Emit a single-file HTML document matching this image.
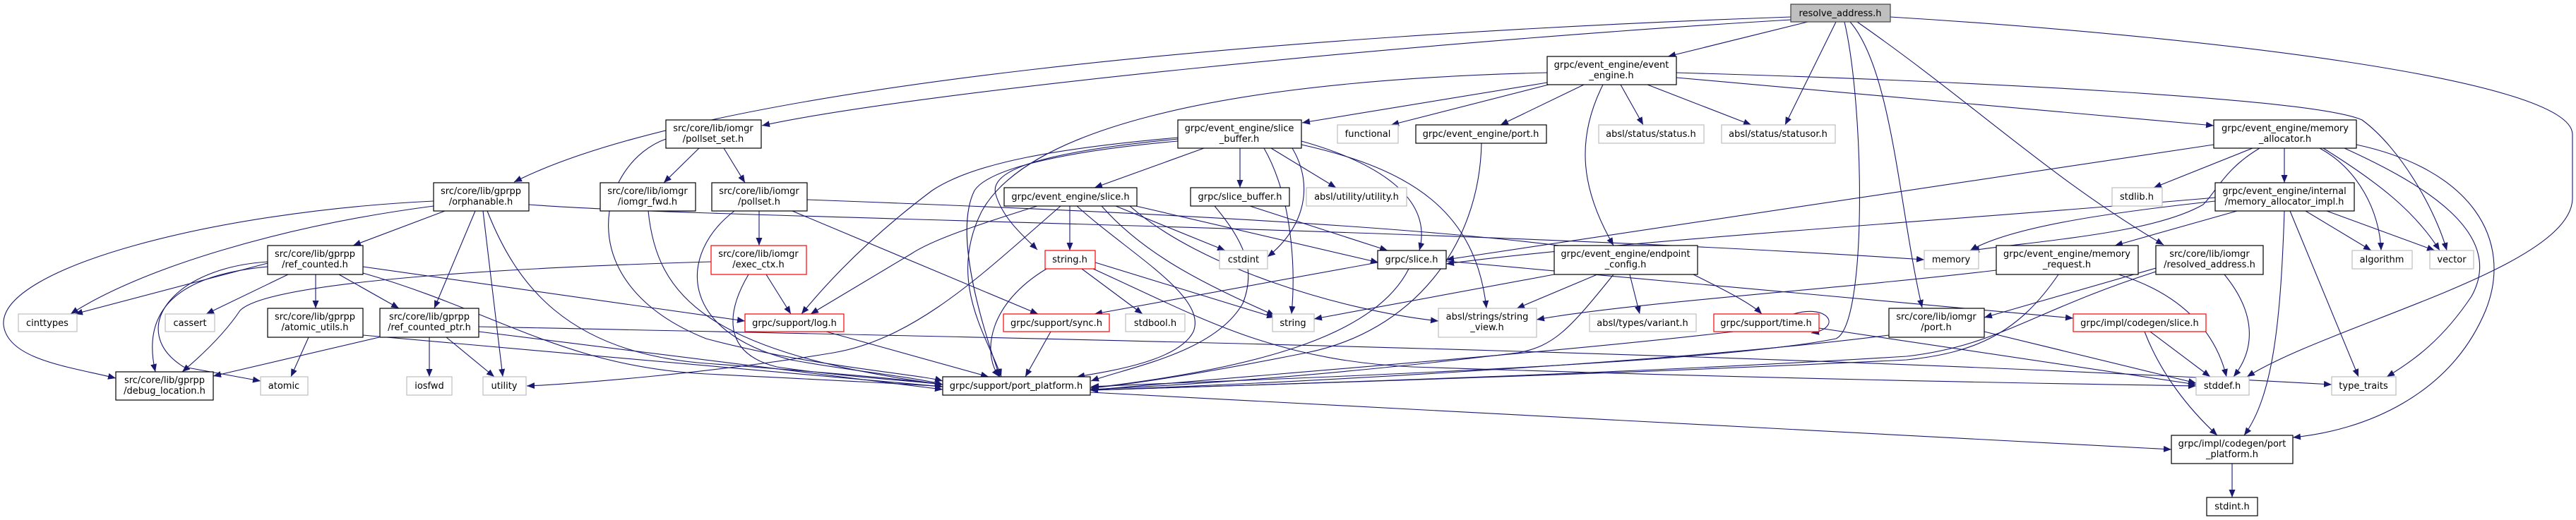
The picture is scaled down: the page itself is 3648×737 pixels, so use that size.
<!DOCTYPE html>
<html><head><meta charset="utf-8"><style>
html,body{margin:0;padding:0;background:#fff;}
svg{display:block;}
text{font-family:"DejaVu Sans","Liberation Sans",sans-serif;font-size:13px;fill:#000;}
</style></head><body>
<svg width="3648" height="737" viewBox="0 0 3648 737" xmlns="http://www.w3.org/2000/svg">
<defs><marker id="a" markerUnits="userSpaceOnUse" markerWidth="12" markerHeight="10" refX="11" refY="4.5" orient="auto"><path d="M0,0 L11,4.5 L0,9 z" fill="#191970"/></marker></defs>
<g fill="none" stroke="#191970" stroke-width="1.1" marker-end="url(#a)">
<path d="M2560,31 L2362,80"/>
<path d="M2536,24 C1800,50 1000,120 728,258"/>
<path d="M2536,28 C2000,60 1300,130 1079,178"/>
<path d="M2600,31 L2528,177"/>
<path d="M2612,31 C2640,150 2645,460 2600,480 C2400,520 1700,540 1545,548"/>
<path d="M2620,31 C2680,100 2690,300 2722,436"/>
<path d="M2630,31 C2800,150 2900,250 3064,347"/>
<path d="M2677,24 C3100,50 3640,110 3643,190 L3643,282 C3640,380 3300,460 3182,534"/>
<path d="M2191,117 L1844,174"/>
<path d="M2193,120 L1970,177"/>
<path d="M2243,120 L2125,177"/>
<path d="M2270,120 C2230,200 2240,270 2285,348"/>
<path d="M2295,120 L2327,177"/>
<path d="M2333,120 L2480,177"/>
<path d="M2374,110 L3135,178"/>
<path d="M2374,103 C2800,115 3280,140 3345,170 C3400,210 3450,300 3465,355"/>
<path d="M2191,103 C1700,115 1450,190 1390,300 C1340,400 1400,480 1418,534"/>
<path d="M1705,210 L1550,266"/>
<path d="M1756,210 L1756,266"/>
<path d="M1800,210 L1892,266"/>
<path d="M1668,197 C1480,215 1400,240 1410,275 C1420,310 1450,335 1469,354"/>
<path d="M1668,195 C1500,210 1380,230 1320,270 C1240,330 1180,390 1135,445"/>
<path d="M1668,200 C1500,215 1400,240 1380,270 C1350,330 1390,460 1416,534"/>
<path d="M1830,210 C1860,260 1850,320 1795,364"/>
<path d="M1843,200 C1950,230 2030,280 2010,355"/>
<path d="M1843,205 C2000,240 2090,300 2105,437"/>
<path d="M1790,210 C1830,280 1835,380 1829,445"/>
<path d="M1515,292 L1515,355"/>
<path d="M1469,292 C1380,320 1320,340 1290,360 L1148,445"/>
<path d="M1502,292 C1400,380 1300,480 1180,500 C1000,530 800,545 746,547"/>
<path d="M1525,292 C1600,360 1710,420 1690,470 C1670,510 1580,525 1525,534"/>
<path d="M1580,292 L1735,355"/>
<path d="M1560,292 C1620,360 1700,400 1805,447"/>
<path d="M1600,292 C1700,380 1900,440 2037,455"/>
<path d="M1600,290 L1952,372"/>
<path d="M1770,292 L1965,355"/>
<path d="M1720,292 C1760,340 1780,380 1760,430 C1720,500 1600,520 1545,540"/>
<path d="M990,210 L940,259"/>
<path d="M1025,210 L1055,259"/>
<path d="M943,197 C850,230 800,400 1000,480 C1150,520 1300,530 1335,540"/>
<path d="M918,299 C930,420 1000,500 1335,545"/>
<path d="M1075,299 L1075,348"/>
<path d="M1122,299 L1470,445"/>
<path d="M1040,299 C960,360 960,470 1120,510 C1200,525 1300,535 1335,545"/>
<path d="M1143,283 C1600,300 2300,330 2400,390 C2440,410 2480,430 2495,445"/>
<path d="M1085,389 L1120,445"/>
<path d="M1060,389 C1030,440 1020,500 1100,520 C1200,535 1300,540 1335,545"/>
<path d="M1007,371 C700,380 380,400 340,440 C320,470 290,500 258,527"/>
<path d="M614,285 C300,300 0,380 5,460 C10,510 100,520 164,536"/>
<path d="M614,292 C400,320 200,380 100,445"/>
<path d="M630,299 L500,348"/>
<path d="M673,299 L615,437"/>
<path d="M684,299 L712,534"/>
<path d="M690,299 C730,400 800,500 1000,515 C1200,530 1300,540 1335,545"/>
<path d="M749,290 C1000,310 2000,320 2725,368"/>
<path d="M379,373 L106,445"/>
<path d="M408,389 L292,445"/>
<path d="M447,389 L447,437"/>
<path d="M480,389 L565,437"/>
<path d="M379,378 C250,390 200,440 220,527"/>
<path d="M379,371 C240,380 180,470 260,520 L369,540"/>
<path d="M514,378 L1055,455"/>
<path d="M514,387 C700,440 800,520 1000,530 C1200,540 1300,545 1335,548"/>
<path d="M437,478 L412,534"/>
<path d="M514,475 L1335,548"/>
<path d="M537,478 L302,533"/>
<path d="M608,478 L608,534"/>
<path d="M632,478 L700,534"/>
<path d="M678,470 L1335,552"/>
<path d="M678,463 C1500,480 2500,500 3302,545"/>
<path d="M1170,470 L1400,534"/>
<path d="M1488,470 L1452,534"/>
<path d="M1482,381 C1400,430 1390,500 1415,534"/>
<path d="M1532,381 L1618,445"/>
<path d="M1551,372 L1805,450"/>
<path d="M1548,381 C1700,450 1800,510 2000,520 C2600,540 3000,545 3110,547"/>
<path d="M1951,372 L1550,445"/>
<path d="M1995,381 C1950,470 1800,520 1544,550"/>
<path d="M2048,370 L2936,451"/>
<path d="M2262,389 L2148,437"/>
<path d="M2308,389 L2322,445"/>
<path d="M2285,389 C2220,470 2200,490 2150,500 C1900,530 1700,545 1544,552"/>
<path d="M2201,389 L1861,452"/>
<path d="M2098,203 C2095,350 2000,470 1850,500 C1700,530 1600,545 1544,550"/>
<path d="M2540,445 C2590,430 2610,465 2565,472"/>
<path d="M2455,470 C2200,500 1800,530 1544,553"/>
<path d="M2576,465 L3110,545"/>
<path d="M3190,210 L3050,266"/>
<path d="M3235,210 L3235,259"/>
<path d="M3285,210 C3340,240 3370,300 3372,355"/>
<path d="M3290,210 C3370,260 3420,300 3455,355"/>
<path d="M3320,210 C3430,260 3550,330 3500,420 C3460,480 3420,510 3380,534"/>
<path d="M3337,205 C3500,240 3560,340 3520,440 C3470,560 3350,610 3247,620"/>
<path d="M3200,210 C3150,240 3140,270 3120,290 C3050,330 2900,340 2792,355"/>
<path d="M3135,205 L2048,368"/>
<path d="M3137,285 C3000,300 2850,320 2790,355"/>
<path d="M3168,299 L2995,348"/>
<path d="M3265,299 L3358,355"/>
<path d="M3295,299 L3448,355"/>
<path d="M3243,299 L3340,534"/>
<path d="M3235,299 C3230,450 3220,560 3178,617"/>
<path d="M3137,280 C2800,310 2300,340 2048,374"/>
<path d="M2827,383 C2600,410 2300,430 2176,453"/>
<path d="M2915,389 C2860,470 2800,500 2700,510 C2300,530 1800,545 1544,553"/>
<path d="M3000,389 C3100,420 3140,480 3153,534"/>
<path d="M3053,380 L2810,450"/>
<path d="M3150,389 C3200,450 3190,500 3163,534"/>
<path d="M3053,385 C2880,440 2830,490 2700,505 C2300,530 1800,545 1544,553"/>
<path d="M2675,475 C2400,510 1900,540 1544,553"/>
<path d="M2810,470 L3110,543"/>
<path d="M3045,470 L3130,534"/>
<path d="M3037,470 C3060,530 3100,580 3140,617"/>
<path d="M1544,556 L3075,637"/>
<path d="M3161,657 L3161,705"/>
</g>
<g stroke-width="1.2">
<rect x="2536" y="6" width="141" height="25" fill="#bfbfbf" stroke="#404040"/>
<g fill="#fff" stroke="#000">
<rect x="2191" y="80" width="183" height="40"/>
<rect x="1668" y="170" width="175" height="40"/>
<rect x="943" y="170" width="135" height="40"/>
<rect x="614" y="259" width="135" height="40"/>
<rect x="2005" y="177" width="185" height="26"/>
<rect x="3135" y="170" width="202" height="40"/>
<rect x="850" y="259" width="135" height="40"/>
<rect x="1008" y="259" width="135" height="40"/>
<rect x="1422" y="266" width="188" height="26"/>
<rect x="1686" y="266" width="140" height="26"/>
<rect x="3137" y="259" width="197" height="40"/>
<rect x="379" y="348" width="135" height="41"/>
<rect x="1951" y="355" width="97" height="26"/>
<rect x="2201" y="348" width="203" height="41"/>
<rect x="2827" y="348" width="201" height="41"/>
<rect x="3053" y="348" width="152" height="41"/>
<rect x="379" y="437" width="135" height="41"/>
<rect x="538" y="437" width="140" height="41"/>
<rect x="2675" y="437" width="135" height="41"/>
<rect x="164" y="527" width="138" height="40"/>
<rect x="1335" y="534" width="209" height="26"/>
<rect x="3075" y="617" width="172" height="40"/>
<rect x="3125" y="705" width="72" height="26"/>
</g>
<g fill="#fff" stroke="#ff0000">
<rect x="1007" y="348" width="135" height="41"/>
<rect x="1480" y="355" width="71" height="26"/>
<rect x="1055" y="445" width="140" height="25"/>
<rect x="1421" y="445" width="150" height="25"/>
<rect x="2427" y="445" width="149" height="25"/>
<rect x="2936" y="445" width="188" height="25"/>
</g>
<g fill="#fff" stroke="#bfbfbf">
<rect x="1894" y="177" width="86" height="26"/>
<rect x="2264" y="177" width="149" height="26"/>
<rect x="2438" y="177" width="161" height="26"/>
<rect x="1850" y="266" width="142" height="26"/>
<rect x="2991" y="266" width="71" height="26"/>
<rect x="1727" y="355" width="68" height="26"/>
<rect x="2725" y="355" width="77" height="26"/>
<rect x="3331" y="355" width="85" height="26"/>
<rect x="3441" y="355" width="62" height="26"/>
<rect x="26" y="445" width="83" height="25"/>
<rect x="234" y="445" width="70" height="25"/>
<rect x="1594" y="445" width="84" height="25"/>
<rect x="1802" y="445" width="59" height="25"/>
<rect x="2037" y="437" width="139" height="41"/>
<rect x="2251" y="445" width="151" height="25"/>
<rect x="369" y="534" width="67" height="26"/>
<rect x="576" y="534" width="64" height="26"/>
<rect x="684" y="534" width="61" height="26"/>
<rect x="3110" y="534" width="75" height="26"/>
<rect x="3302" y="534" width="91" height="26"/>
</g>
</g>
<g text-anchor="middle">
<text x="2606" y="23">resolve_address.h</text>
<text x="2282" y="96">grpc/event_engine/event</text><text x="2282" y="111">_engine.h</text>
<text x="1755" y="186">grpc/event_engine/slice</text><text x="1755" y="201">_buffer.h</text>
<text x="1010" y="186">src/core/lib/iomgr</text><text x="1010" y="201">/pollset_set.h</text>
<text x="681" y="275">src/core/lib/gprpp</text><text x="681" y="290">/orphanable.h</text>
<text x="2097" y="194">grpc/event_engine/port.h</text>
<text x="3236" y="186">grpc/event_engine/memory</text><text x="3236" y="201">_allocator.h</text>
<text x="917" y="275">src/core/lib/iomgr</text><text x="917" y="290">/iomgr_fwd.h</text>
<text x="1075" y="275">src/core/lib/iomgr</text><text x="1075" y="290">/pollset.h</text>
<text x="1516" y="283">grpc/event_engine/slice.h</text>
<text x="1756" y="283">grpc/slice_buffer.h</text>
<text x="3235" y="275">grpc/event_engine/internal</text><text x="3235" y="290">/memory_allocator_impl.h</text>
<text x="446" y="364">src/core/lib/gprpp</text><text x="446" y="379">/ref_counted.h</text>
<text x="1999" y="372">grpc/slice.h</text>
<text x="2302" y="364">grpc/event_engine/endpoint</text><text x="2302" y="379">_config.h</text>
<text x="2927" y="364">grpc/event_engine/memory</text><text x="2927" y="379">_request.h</text>
<text x="3129" y="364">src/core/lib/iomgr</text><text x="3129" y="379">/resolved_address.h</text>
<text x="446" y="453">src/core/lib/gprpp</text><text x="446" y="468">/atomic_utils.h</text>
<text x="608" y="453">src/core/lib/gprpp</text><text x="608" y="468">/ref_counted_ptr.h</text>
<text x="2742" y="453">src/core/lib/iomgr</text><text x="2742" y="468">/port.h</text>
<text x="233" y="543">src/core/lib/gprpp</text><text x="233" y="558">/debug_location.h</text>
<text x="1439" y="551">grpc/support/port_platform.h</text>
<text x="3161" y="633">grpc/impl/codegen/port</text><text x="3161" y="648">_platform.h</text>
<text x="3161" y="722">stdint.h</text>
<text x="1074" y="364">src/core/lib/iomgr</text><text x="1074" y="379">/exec_ctx.h</text>
<text x="1515" y="372">string.h</text>
<text x="1125" y="462">grpc/support/log.h</text>
<text x="1496" y="462">grpc/support/sync.h</text>
<text x="2501" y="462">grpc/support/time.h</text>
<text x="3030" y="462">grpc/impl/codegen/slice.h</text>
<text x="1937" y="194">functional</text>
<text x="2338" y="194">absl/status/status.h</text>
<text x="2518" y="194">absl/status/statusor.h</text>
<text x="1921" y="283">absl/utility/utility.h</text>
<text x="3026" y="283">stdlib.h</text>
<text x="1761" y="372">cstdint</text>
<text x="2763" y="372">memory</text>
<text x="3373" y="372">algorithm</text>
<text x="3472" y="372">vector</text>
<text x="67" y="462">cinttypes</text>
<text x="269" y="462">cassert</text>
<text x="1636" y="462">stdbool.h</text>
<text x="1831" y="462">string</text>
<text x="2106" y="453">absl/strings/string</text><text x="2106" y="468">_view.h</text>
<text x="2326" y="462">absl/types/variant.h</text>
<text x="402" y="551">atomic</text>
<text x="608" y="551">iosfwd</text>
<text x="714" y="551">utility</text>
<text x="3147" y="551">stddef.h</text>
<text x="3347" y="551">type_traits</text>
</g>
</svg>
</body></html>
